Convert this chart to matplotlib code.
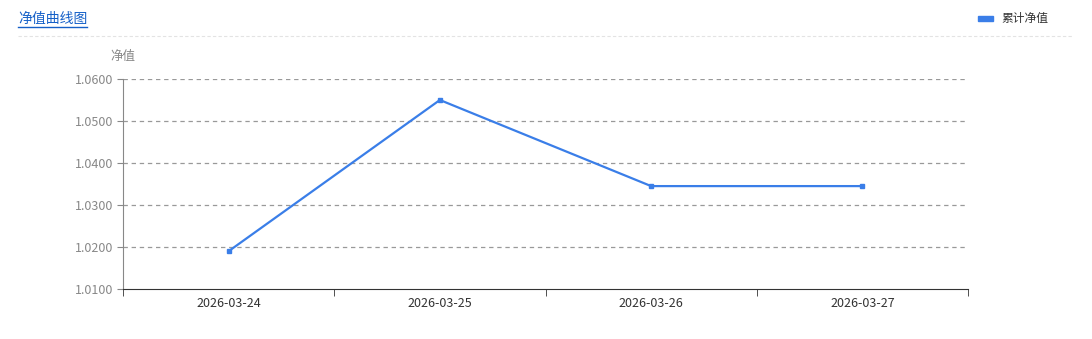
import matplotlib.pyplot as plt
from matplotlib.lines import Line2D
from matplotlib.patches import Rectangle

plt.rcParams['font.family'] = ['Noto Sans CJK SC', 'DejaVu Sans']

# data
dates = ['2026-03-24', '2026-03-25', '2026-03-26', '2026-03-27']
nav = [1.0190, 1.0550, 1.0345, 1.0345]
yticks = [1.01, 1.02, 1.03, 1.04, 1.05, 1.06]

blue = '#3a7ee8'
W, H = 1092, 339

fig = plt.figure(figsize=(W / 100, H / 100), dpi=100)
ax = fig.add_axes([123 / W, 1 - 289 / H, (968 - 123) / W, (289 - 79) / H])

x = range(len(dates))
ax.plot(x, nav, color=blue, lw=1.6, marker='s', ms=3, zorder=3)

ax.set_xlim(-0.5, len(dates) - 0.5)
ax.set_ylim(1.01, 1.06)
ax.set_yticks(yticks)
ax.set_yticklabels(['%.4f' % v for v in yticks])
ax.set_xticks(x)
ax.set_xticklabels(dates)
# ticks on band boundaries
ax.set_xticks([i - 0.5 for i in range(len(dates) + 1)], minor=True)
ax.tick_params(axis='x', which='major', length=0, labelsize=9, colors='#333333', pad=6)
ax.tick_params(axis='x', which='minor', length=5, color='#333333', direction='out')
ax.tick_params(axis='y', length=4, color='#888888', labelsize=9, labelcolor='#888888', pad=3)

for s in ['top', 'right']:
    ax.spines[s].set_visible(False)
ax.spines['left'].set_color('#888888')
ax.spines['bottom'].set_color('#333333')

for v in yticks[1:]:
    ax.axhline(v, color='#999999', lw=0.9, ls=(0, (3.5, 3)), zorder=1)

# y axis name
fig.text(123 / W, 1 - 56 / H, '净值', ha='center', va='center', fontsize=9, color='#888888')

# header
fig.text(18 / W, 1 - 19 / H, '净值曲线图', ha='left', va='center', fontsize=10, color='#1560c8')
fig.add_artist(Line2D([18 / W, 87 / W], [1 - 26.5 / H, 1 - 26.5 / H], color='#1560c8', lw=1))
fig.add_artist(Line2D([18 / W, 1073 / W], [1 - 36 / H, 1 - 36 / H], color='#e3e3e3', lw=0.8, ls=(0, (3, 2))))

# legend
fig.add_artist(Rectangle((978 / W, 1 - 21 / H), 15 / W, 5 / H, color=blue))
fig.text(1001 / W, 1 - 18 / H, '累计净值', ha='left', va='center', fontsize=8.5, color='#333333')

plt.savefig('out.png', dpi=100)
